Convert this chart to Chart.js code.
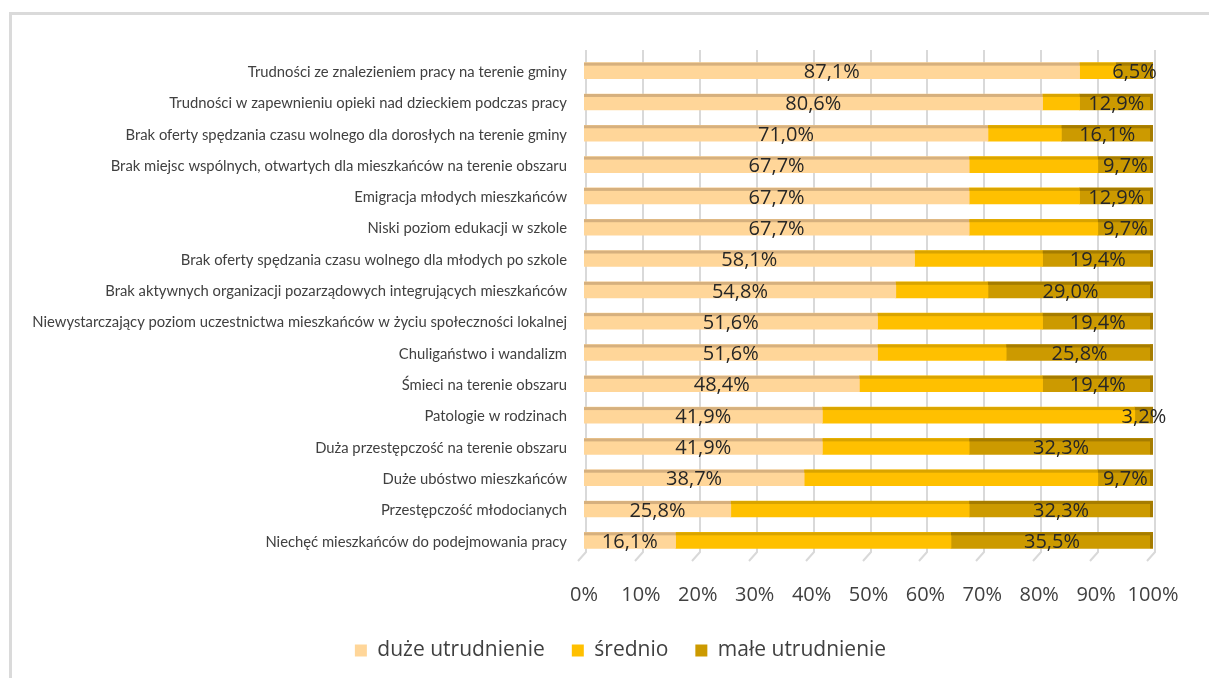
<!DOCTYPE html>
<html lang="pl">
<head>
<meta charset="utf-8">
<title>Utrudnienia</title>
<script src="https://cdn.jsdelivr.net/npm/chart.js"></script>
<style>
  html, body { margin: 0; padding: 0; background: #fff; overflow: hidden; }
  #wrap { position: relative; width: 1209px; height: 678px; }
  #frame {
    position: absolute; left: 9px; top: 12px; width: 1240px; height: 720px;
    border-left: 3px solid #dadada; border-top: 3px solid #dadada;
  }
  #chart { position: absolute; left: 0; top: 0; }
</style>
</head>
<body>
<div id="wrap">
  <div id="frame"></div>
  <canvas id="chart" width="1209" height="678"></canvas>
</div>
<script>
const categories = [
  'Trudności ze znalezieniem pracy na terenie gminy',
  'Trudności w zapewnieniu opieki nad dzieckiem podczas pracy',
  'Brak oferty spędzania czasu wolnego dla dorosłych na terenie gminy',
  'Brak miejsc wspólnych, otwartych dla mieszkańców na terenie obszaru',
  'Emigracja młodych mieszkańców',
  'Niski poziom edukacji w szkole',
  'Brak oferty spędzania czasu wolnego dla młodych po szkole',
  'Brak aktywnych organizacji pozarządowych integrujących mieszkańców',
  'Niewystarczający poziom uczestnictwa mieszkańców w życiu społeczności lokalnej',
  'Chuligaństwo i wandalizm',
  'Śmieci na terenie obszaru',
  'Patologie w rodzinach',
  'Duża przestępczość na terenie obszaru',
  'Duże ubóstwo mieszkańców',
  'Przestępczość młodocianych',
  'Niechęć mieszkańców do podejmowania pracy'
];
const seriesNames = ['duże utrudnienie', 'średnio', 'małe utrudnienie'];
const duze    = [87.1, 80.6, 71.0, 67.7, 67.7, 67.7, 58.1, 54.8, 51.6, 51.6, 48.4, 41.9, 41.9, 38.7, 25.8, 16.1];
const srednio = [6.4, 6.5, 12.9, 22.6, 19.4, 22.6, 22.5, 16.2, 29.0, 22.6, 32.2, 54.9, 25.8, 51.6, 41.9, 48.4];
const male    = [6.5, 12.9, 16.1, 9.7, 12.9, 9.7, 19.4, 29.0, 19.4, 25.8, 19.4, 3.2, 32.3, 9.7, 32.3, 35.5];
const xTicks  = [0, 10, 20, 30, 40, 50, 60, 70, 80, 90, 100];

const FONT = '"Open Sans", "DejaVu Sans", sans-serif';
const LABEL_FONT = 'Lato, "Open Sans", sans-serif';
const fronts = ['#FFD699', '#FFC000', '#CC9A00'];
const tops   = ['#D6B07E', '#D9A400', '#A57C00'];

// vertical gridlines with a small slanted foot (3D floor look)
const floorGrid = {
  id: 'floorGrid',
  beforeDatasetsDraw(chart) {
    const {ctx, chartArea} = chart;
    const x = chart.scales.x;
    ctx.save();
    ctx.strokeStyle = '#d9d9d9';
    ctx.lineWidth = 2;
    xTicks.forEach(v => {
      const px = Math.round(x.getPixelForValue(v)) + 2;
      ctx.beginPath();
      ctx.moveTo(px, chartArea.top - 5);
      ctx.lineTo(px, chartArea.bottom - 4);
      ctx.lineTo(px - 8, chartArea.bottom + 5);
      ctx.stroke();
    });
    ctx.restore();
  }
};

// darker top face on every segment, end face on the last one
const barFaces = {
  id: 'barFaces',
  afterDatasetsDraw(chart) {
    const {ctx} = chart;
    ctx.save();
    chart.data.datasets.forEach((ds, di) => {
      chart.getDatasetMeta(di).data.forEach(bar => {
        const left = Math.min(bar.base, bar.x);
        const w = Math.abs(bar.x - bar.base);
        const top = bar.y - bar.height / 2;
        ctx.fillStyle = tops[di];
        ctx.fillRect(left, top, w, 3);
        if (di === chart.data.datasets.length - 1) {
          ctx.fillRect(bar.x - 3, top, 3, bar.height);
        }
      });
    });
    ctx.restore();
  }
};

// percentage labels for the first and last series
const valueLabels = {
  id: 'valueLabels',
  afterDatasetsDraw(chart) {
    const {ctx} = chart;
    ctx.save();
    ctx.font = '20px ' + FONT;
    ctx.fillStyle = '#262626';
    ctx.textAlign = 'center';
    ctx.textBaseline = 'middle';
    [0, 2].forEach(di => {
      const values = chart.data.datasets[di].data;
      chart.getDatasetMeta(di).data.forEach((bar, i) => {
        const txt = values[i].toFixed(1).replace('.', ',') + '%';
        ctx.fillText(txt, (bar.x + bar.base) / 2, bar.y + 2);
      });
    });
    ctx.restore();
  }
};

// the legend sits a little right of the canvas centre
const legendShift = {
  id: 'legendShift',
  afterLayout(chart) {
    chart.legend.left += 29;
    chart.legend.right += 29;
  }
};

new Chart(document.getElementById('chart'), {
  type: 'bar',
  data: {
    labels: categories,
    datasets: [
      { label: seriesNames[0], data: duze,    backgroundColor: fronts[0] },
      { label: seriesNames[1], data: srednio, backgroundColor: fronts[1] },
      { label: seriesNames[2], data: male,    backgroundColor: fronts[2] }
    ]
  },
  options: {
    indexAxis: 'y',
    responsive: false,
    animation: false,
    layout: { padding: { top: 55, right: 56, bottom: 7, left: 30 } },
    datasets: { bar: { barThickness: 16, borderWidth: 0 } },
    scales: {
      x: {
        stacked: true, min: 0, max: 100,
        grid: { display: false, drawTicks: false },
        border: { display: false },
        ticks: {
          stepSize: 10, padding: 27, color: '#404040',
          font: { family: FONT, size: 20 },
          callback: v => v + '%'
        },
        afterFit: s => { s.height = 57; }
      },
      y: {
        stacked: true,
        grid: { display: false, drawTicks: false },
        border: { display: false },
        ticks: {
          autoSkip: false, padding: 17, labelOffset: 1.5, color: '#404040',
          font: { family: LABEL_FONT, size: 14.8 }
        },
        afterFit: s => { s.width = 554; }
      }
    },
    plugins: {
      legend: {
        position: 'bottom',
        labels: { boxWidth: 12, boxHeight: 12, padding: 27, color: '#404040', font: { family: FONT, size: 21 } }
      },
      tooltip: { enabled: false }
    }
  },
  plugins: [floorGrid, barFaces, valueLabels, legendShift]
});
</script>
</body>
</html>
